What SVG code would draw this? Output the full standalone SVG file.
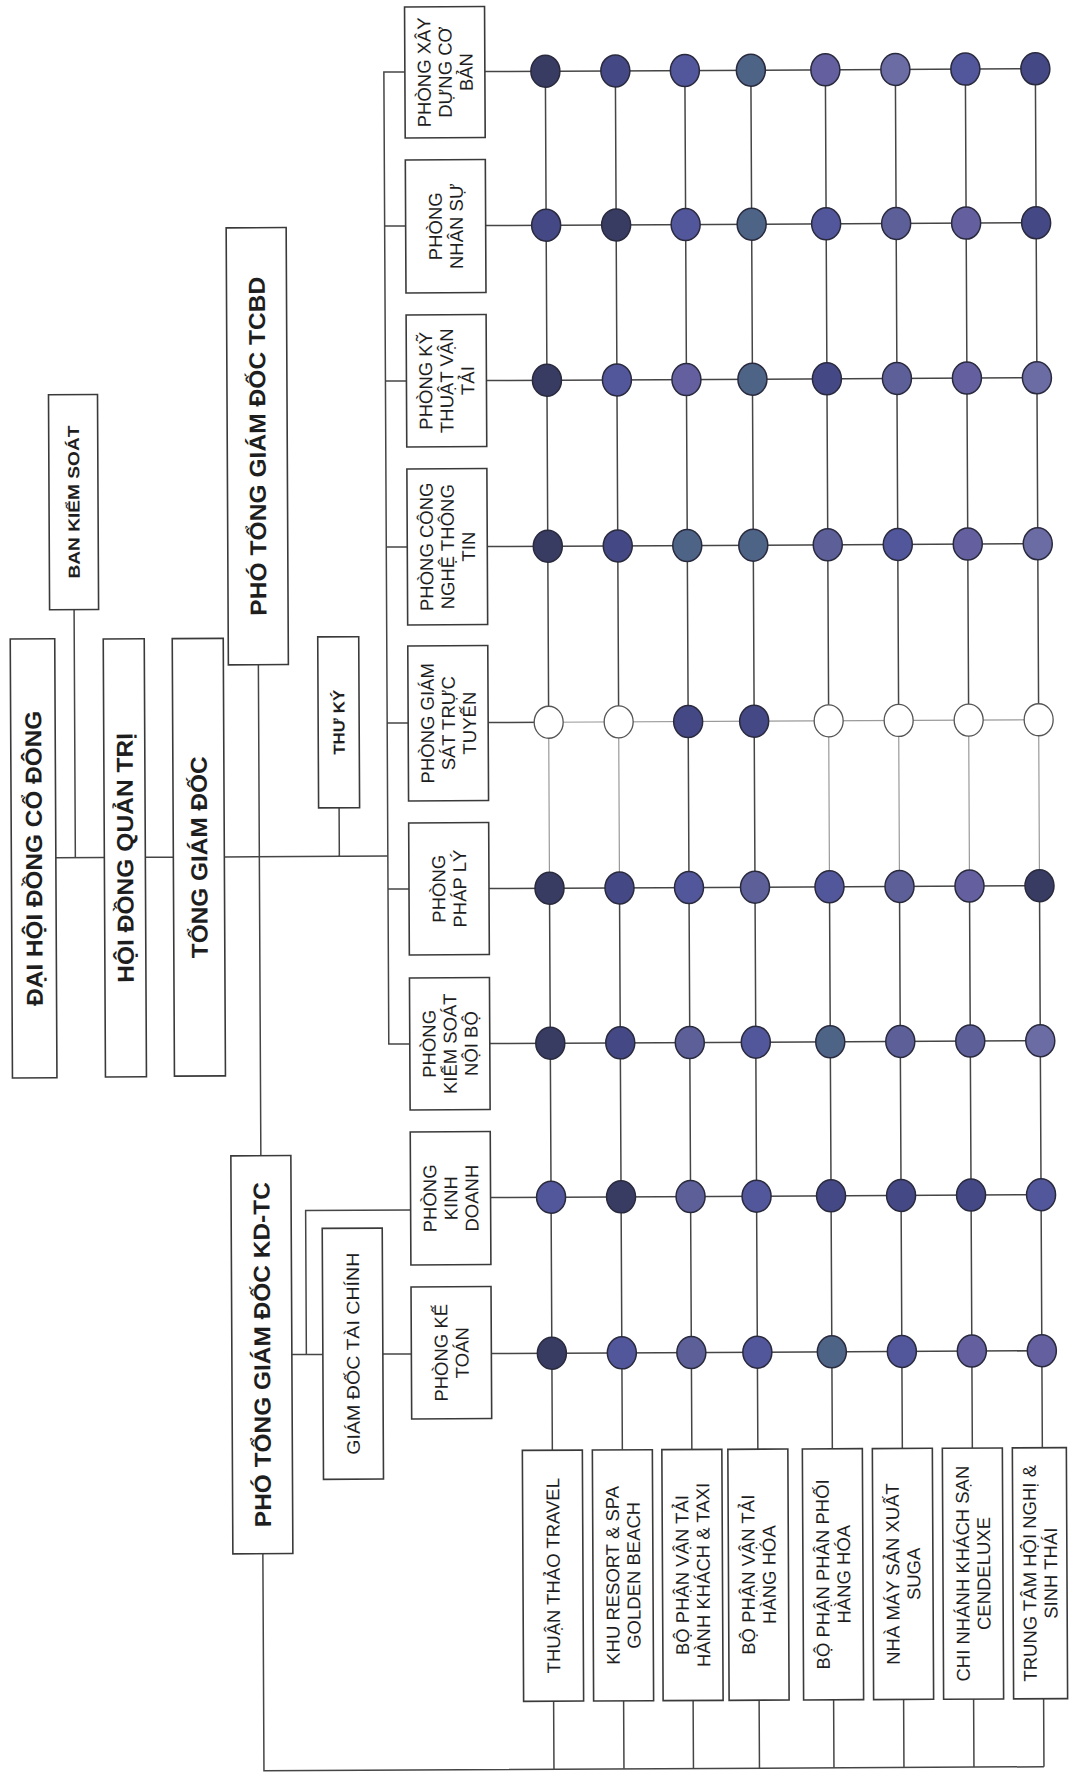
<svg xmlns="http://www.w3.org/2000/svg" width="1071" height="1779" viewBox="0 0 1071 1779">
<style>
.bg{fill:#ffffff}
.box{fill:#ffffff;stroke:#3a3a3a;stroke-width:1.6}
.ln{fill:none;stroke:#454545;stroke-width:1.5}
.lt{fill:none;stroke:#9a9a9a;stroke-width:1.2}
.tb{font-family:"Liberation Sans",Arial,sans-serif;font-weight:bold;fill:#1e1e1e;text-anchor:middle}
.tr{font-family:"Liberation Sans",Arial,sans-serif;font-weight:normal;fill:#1e1e1e;text-anchor:middle}
.dept{font-size:18.5px}
.unit{font-size:18.5px}
.dot{stroke:#2a2a3e;stroke-width:1.5}
.w{fill:#ffffff;stroke:#555555;stroke-width:1.3}
.a{fill:#383c62}.b{fill:#444884}.c{fill:#52569a}.d{fill:#5d6098}.e{fill:#4d6486}.f{fill:#64609f}.g{fill:#6b6ca4}
</style>
<rect class="bg" x="0" y="0" width="1071" height="1779"/>
<g transform="rotate(-0.29)">
<g id="connectors">
<path class="ln" d="M51.5 858H100M141 858H169M220 858H383.5M71 610V858M335 809.5V858M255 666V1157"/>
<path class="ln" d="M404.5 74H383.5V1046H404.5M383.5 228H404.5M383.5 383H404.5M383.5 549H404.5M383.5 725H404.5M383.5 891H404.5"/>
<path class="ln" d="M285 1356H316M299.5 1356V1212H404.5M376 1356H404.5M255 1555V1772H1035"/>
<path class="ln" d="M484.5 74H1035M484.5 228H1035M484.5 383H1035M484.5 549H1035M484.5 891H1035M484.5 1046H1035M484.5 1200H1035M484.5 1356H1035"/>
<path class="ln" d="M484.5 725H545"/>
<path class="lt" d="M545 725H1035"/>
<path class="ln" d="M545 74V725M615 74V725M684.5 74V1453M750.5 74V1453M825 74V725M895 74V725M965 74V725M1035 74V725"/>
<path class="lt" d="M545 725V891M615 725V891M825 725V891M895 725V891M965 725V891M1035 725V891"/>
<path class="ln" d="M545 891V1453M615 891V1453M825 891V1453M895 891V1453M965 891V1453M1035 891V1453"/>
<path class="ln" d="M545 1704V1772M615 1704V1772M684.5 1704V1772M750.5 1704V1772M825 1704V1772M895 1704V1772M965 1704V1772M1035 1704V1772"/>
</g>
<g id="n-daihoidong"><rect class="box" x="7" y="639" width="44.5" height="439"/><text class="tb" font-size="23" transform="translate(29.25 858.5) rotate(-90)"><tspan x="0" y="8.3" textLength="295" lengthAdjust="spacingAndGlyphs">ĐẠI HỘI ĐỒNG CỔ ĐÔNG</tspan></text></g>
<g id="n-bankiemsoat"><rect class="box" x="46.5" y="395" width="49" height="215"/><text class="tb" font-size="16" transform="translate(71 502.5) rotate(-90)"><tspan x="0" y="5.8" textLength="153" lengthAdjust="spacingAndGlyphs">BAN KIỂM SOÁT</tspan></text></g>
<g id="n-hdqt"><rect class="box" x="100" y="639.5" width="41" height="438"/><text class="tb" font-size="23" transform="translate(120.5 858.5) rotate(-90)"><tspan x="0" y="8.3" textLength="250" lengthAdjust="spacingAndGlyphs">HỘI ĐỒNG QUẢN TRỊ</tspan></text></g>
<g id="n-tgd"><rect class="box" x="169" y="639.5" width="51" height="437.5"/><text class="tb" font-size="23" transform="translate(194.5 858.3) rotate(-90)"><tspan x="0" y="8.3" textLength="202" lengthAdjust="spacingAndGlyphs">TỔNG GIÁM ĐỐC</tspan></text></g>
<g id="n-ptgd-tcbd"><rect class="box" x="225" y="229" width="60" height="437"/><text class="tb" font-size="23" transform="translate(255 447.5) rotate(-90)"><tspan x="0" y="8.3" textLength="339" lengthAdjust="spacingAndGlyphs">PHÓ TỔNG GIÁM ĐỐC TCBD</tspan></text></g>
<g id="n-thuky"><rect class="box" x="314.5" y="638.5" width="41" height="171"/><text class="tb" font-size="16" transform="translate(335 724) rotate(-90)"><tspan x="0" y="5.8" textLength="65" lengthAdjust="spacingAndGlyphs">THƯ KÝ</tspan></text></g>
<g id="n-ptgd-kdtc"><rect class="box" x="225" y="1157" width="60" height="398"/><text class="tb" font-size="23" transform="translate(255 1356) rotate(-90)"><tspan x="0" y="8.3" textLength="345" lengthAdjust="spacingAndGlyphs">PHÓ TỔNG GIÁM ĐỐC KD-TC</tspan></text></g>
<g id="n-gdtc"><rect class="box" x="316" y="1230" width="60" height="251"/><text class="tr" font-size="18" transform="translate(346 1355.5) rotate(-90)"><tspan x="0" y="6.5" textLength="202" lengthAdjust="spacingAndGlyphs">GIÁM ĐỐC TÀI CHÍNH</tspan></text></g>
<g id="d-xdcb"><rect class="box" x="404.5" y="9" width="80" height="131"/><text class="tr dept" transform="translate(444.5 74.5) rotate(-90)"><tspan x="0" y="-14.3">PHÒNG XÂY</tspan><tspan x="0" y="6.7">DỰNG CƠ</tspan><tspan x="0" y="27.7">BẢN</tspan></text></g>
<g id="d-nhansu"><rect class="box" x="404.5" y="162" width="80" height="133"/><text class="tr dept" transform="translate(444.5 228.5) rotate(-90)"><tspan x="0" y="-3.8">PHÒNG</tspan><tspan x="0" y="17.2">NHÂN SỰ</tspan></text></g>
<g id="d-ktvt"><rect class="box" x="404.5" y="317" width="80" height="132"/><text class="tr dept" transform="translate(444.5 383) rotate(-90)"><tspan x="0" y="-14.3">PHÒNG KỸ</tspan><tspan x="0" y="6.7">THUẬT VẬN</tspan><tspan x="0" y="27.7">TẢI</tspan></text></g>
<g id="d-cntt"><rect class="box" x="404.5" y="471" width="80" height="156"/><text class="tr dept" transform="translate(444.5 549) rotate(-90)"><tspan x="0" y="-14.3">PHÒNG CÔNG</tspan><tspan x="0" y="6.7">NGHỆ THÔNG</tspan><tspan x="0" y="27.7">TIN</tspan></text></g>
<g id="d-gstt"><rect class="box" x="404.5" y="648" width="80" height="155"/><text class="tr dept" transform="translate(444.5 725.5) rotate(-90)"><tspan x="0" y="-14.3">PHÒNG GIÁM</tspan><tspan x="0" y="6.7">SÁT TRỰC</tspan><tspan x="0" y="27.7">TUYẾN</tspan></text></g>
<g id="d-phaply"><rect class="box" x="404.5" y="825" width="80" height="132"/><text class="tr dept" transform="translate(444.5 891) rotate(-90)"><tspan x="0" y="-3.8">PHÒNG</tspan><tspan x="0" y="17.2">PHÁP LÝ</tspan></text></g>
<g id="d-ksnb"><rect class="box" x="404.5" y="980" width="80" height="132"/><text class="tr dept" transform="translate(444.5 1046) rotate(-90)"><tspan x="0" y="-14.3">PHÒNG</tspan><tspan x="0" y="6.7">KIỂM SOÁT</tspan><tspan x="0" y="27.7">NỘI BỘ</tspan></text></g>
<g id="d-kinhdoanh"><rect class="box" x="404.5" y="1134" width="80" height="133"/><text class="tr dept" transform="translate(444.5 1200.5) rotate(-90)"><tspan x="0" y="-14.3">PHÒNG</tspan><tspan x="0" y="6.7">KINH</tspan><tspan x="0" y="27.7">DOANH</tspan></text></g>
<g id="d-ketoan"><rect class="box" x="404.5" y="1289" width="80" height="132"/><text class="tr dept" transform="translate(444.5 1355) rotate(-90)"><tspan x="0" y="-3.8">PHÒNG KẾ</tspan><tspan x="0" y="17.2">TOÁN</tspan></text></g>
<g id="u-travel"><rect class="box" x="515" y="1453" width="60" height="251"/><text class="tr unit" transform="translate(545 1578.5) rotate(-90)"><tspan x="0" y="6.7">THUẬN THẢO TRAVEL</tspan></text></g>
<g id="u-resort"><rect class="box" x="585" y="1453" width="60" height="251"/><text class="tr unit" transform="translate(615 1578.5) rotate(-90)"><tspan x="0" y="-3.8">KHU RESORT &amp; SPA</tspan><tspan x="0" y="17.2">GOLDEN BEACH</tspan></text></g>
<g id="u-taxi"><rect class="box" x="654.5" y="1453" width="60" height="251"/><text class="tr unit" transform="translate(684.5 1578.5) rotate(-90)"><tspan x="0" y="-3.8">BỘ PHẬN VẬN TẢI</tspan><tspan x="0" y="17.2">HÀNH KHÁCH &amp; TAXI</tspan></text></g>
<g id="u-hanghoa"><rect class="box" x="720.5" y="1453" width="60" height="251"/><text class="tr unit" transform="translate(750.5 1578.5) rotate(-90)"><tspan x="0" y="-3.8">BỘ PHẬN VẬN TẢI</tspan><tspan x="0" y="17.2">HÀNG HÓA</tspan></text></g>
<g id="u-phanphoi"><rect class="box" x="795" y="1453" width="60" height="251"/><text class="tr unit" transform="translate(825 1578.5) rotate(-90)"><tspan x="0" y="-3.8">BỘ PHẬN PHÂN PHỐI</tspan><tspan x="0" y="17.2">HÀNG HÓA</tspan></text></g>
<g id="u-suga"><rect class="box" x="865" y="1453" width="60" height="251"/><text class="tr unit" transform="translate(895 1578.5) rotate(-90)"><tspan x="0" y="-3.8">NHÀ MÁY SẢN XUẤT</tspan><tspan x="0" y="17.2">SUGA</tspan></text></g>
<g id="u-cendeluxe"><rect class="box" x="935" y="1453" width="60" height="251"/><text class="tr unit" transform="translate(965 1578.5) rotate(-90)"><tspan x="0" y="-3.8">CHI NHÁNH KHÁCH SẠN</tspan><tspan x="0" y="17.2">CENDELUXE</tspan></text></g>
<g id="u-hoinghi"><rect class="box" x="1005" y="1453" width="54" height="251"/><text class="tr unit" transform="translate(1032 1578.5) rotate(-90)"><tspan x="0" y="-3.8">TRUNG TÂM HỘI NGHỊ &amp;</tspan><tspan x="0" y="17.2">SINH THÁI</tspan></text></g>
<g id="matrix">
<ellipse class="dot a" cx="545" cy="74" rx="14.5" ry="16"/><ellipse class="dot b" cx="615" cy="74" rx="14.5" ry="16"/><ellipse class="dot c" cx="684.5" cy="74" rx="14.5" ry="16"/><ellipse class="dot e" cx="750.5" cy="74" rx="14.5" ry="16"/><ellipse class="dot f" cx="825" cy="74" rx="14.5" ry="16"/><ellipse class="dot g" cx="895" cy="74" rx="14.5" ry="16"/><ellipse class="dot c" cx="965" cy="74" rx="14.5" ry="16"/><ellipse class="dot b" cx="1035" cy="74" rx="14.5" ry="16"/>
<ellipse class="dot b" cx="545" cy="228" rx="14.5" ry="16"/><ellipse class="dot a" cx="615" cy="228" rx="14.5" ry="16"/><ellipse class="dot c" cx="684.5" cy="228" rx="14.5" ry="16"/><ellipse class="dot e" cx="750.5" cy="228" rx="14.5" ry="16"/><ellipse class="dot c" cx="825" cy="228" rx="14.5" ry="16"/><ellipse class="dot d" cx="895" cy="228" rx="14.5" ry="16"/><ellipse class="dot f" cx="965" cy="228" rx="14.5" ry="16"/><ellipse class="dot b" cx="1035" cy="228" rx="14.5" ry="16"/>
<ellipse class="dot a" cx="545" cy="383" rx="14.5" ry="16"/><ellipse class="dot c" cx="615" cy="383" rx="14.5" ry="16"/><ellipse class="dot f" cx="684.5" cy="383" rx="14.5" ry="16"/><ellipse class="dot e" cx="750.5" cy="383" rx="14.5" ry="16"/><ellipse class="dot b" cx="825" cy="383" rx="14.5" ry="16"/><ellipse class="dot d" cx="895" cy="383" rx="14.5" ry="16"/><ellipse class="dot f" cx="965" cy="383" rx="14.5" ry="16"/><ellipse class="dot g" cx="1035" cy="383" rx="14.5" ry="16"/>
<ellipse class="dot a" cx="545" cy="549" rx="14.5" ry="16"/><ellipse class="dot b" cx="615" cy="549" rx="14.5" ry="16"/><ellipse class="dot e" cx="684.5" cy="549" rx="14.5" ry="16"/><ellipse class="dot e" cx="750.5" cy="549" rx="14.5" ry="16"/><ellipse class="dot d" cx="825" cy="549" rx="14.5" ry="16"/><ellipse class="dot c" cx="895" cy="549" rx="14.5" ry="16"/><ellipse class="dot f" cx="965" cy="549" rx="14.5" ry="16"/><ellipse class="dot g" cx="1035" cy="549" rx="14.5" ry="16"/>
<ellipse class="w" cx="545" cy="725" rx="14.5" ry="16"/><ellipse class="w" cx="615" cy="725" rx="14.5" ry="16"/><ellipse class="dot b" cx="684.5" cy="725" rx="14.5" ry="16"/><ellipse class="dot b" cx="750.5" cy="725" rx="14.5" ry="16"/><ellipse class="w" cx="825" cy="725" rx="14.5" ry="16"/><ellipse class="w" cx="895" cy="725" rx="14.5" ry="16"/><ellipse class="w" cx="965" cy="725" rx="14.5" ry="16"/><ellipse class="w" cx="1035" cy="725" rx="14.5" ry="16"/>
<ellipse class="dot a" cx="545" cy="891" rx="14.5" ry="16"/><ellipse class="dot b" cx="615" cy="891" rx="14.5" ry="16"/><ellipse class="dot c" cx="684.5" cy="891" rx="14.5" ry="16"/><ellipse class="dot d" cx="750.5" cy="891" rx="14.5" ry="16"/><ellipse class="dot c" cx="825" cy="891" rx="14.5" ry="16"/><ellipse class="dot d" cx="895" cy="891" rx="14.5" ry="16"/><ellipse class="dot f" cx="965" cy="891" rx="14.5" ry="16"/><ellipse class="dot a" cx="1035" cy="891" rx="14.5" ry="16"/>
<ellipse class="dot a" cx="545" cy="1046" rx="14.5" ry="16"/><ellipse class="dot b" cx="615" cy="1046" rx="14.5" ry="16"/><ellipse class="dot d" cx="684.5" cy="1046" rx="14.5" ry="16"/><ellipse class="dot c" cx="750.5" cy="1046" rx="14.5" ry="16"/><ellipse class="dot e" cx="825" cy="1046" rx="14.5" ry="16"/><ellipse class="dot d" cx="895" cy="1046" rx="14.5" ry="16"/><ellipse class="dot d" cx="965" cy="1046" rx="14.5" ry="16"/><ellipse class="dot g" cx="1035" cy="1046" rx="14.5" ry="16"/>
<ellipse class="dot c" cx="545" cy="1200" rx="14.5" ry="16"/><ellipse class="dot a" cx="615" cy="1200" rx="14.5" ry="16"/><ellipse class="dot d" cx="684.5" cy="1200" rx="14.5" ry="16"/><ellipse class="dot c" cx="750.5" cy="1200" rx="14.5" ry="16"/><ellipse class="dot b" cx="825" cy="1200" rx="14.5" ry="16"/><ellipse class="dot b" cx="895" cy="1200" rx="14.5" ry="16"/><ellipse class="dot b" cx="965" cy="1200" rx="14.5" ry="16"/><ellipse class="dot c" cx="1035" cy="1200" rx="14.5" ry="16"/>
<ellipse class="dot a" cx="545" cy="1356" rx="14.5" ry="16"/><ellipse class="dot c" cx="615" cy="1356" rx="14.5" ry="16"/><ellipse class="dot d" cx="684.5" cy="1356" rx="14.5" ry="16"/><ellipse class="dot c" cx="750.5" cy="1356" rx="14.5" ry="16"/><ellipse class="dot e" cx="825" cy="1356" rx="14.5" ry="16"/><ellipse class="dot c" cx="895" cy="1356" rx="14.5" ry="16"/><ellipse class="dot f" cx="965" cy="1356" rx="14.5" ry="16"/><ellipse class="dot f" cx="1035" cy="1356" rx="14.5" ry="16"/>
</g>
</g>
</svg>
